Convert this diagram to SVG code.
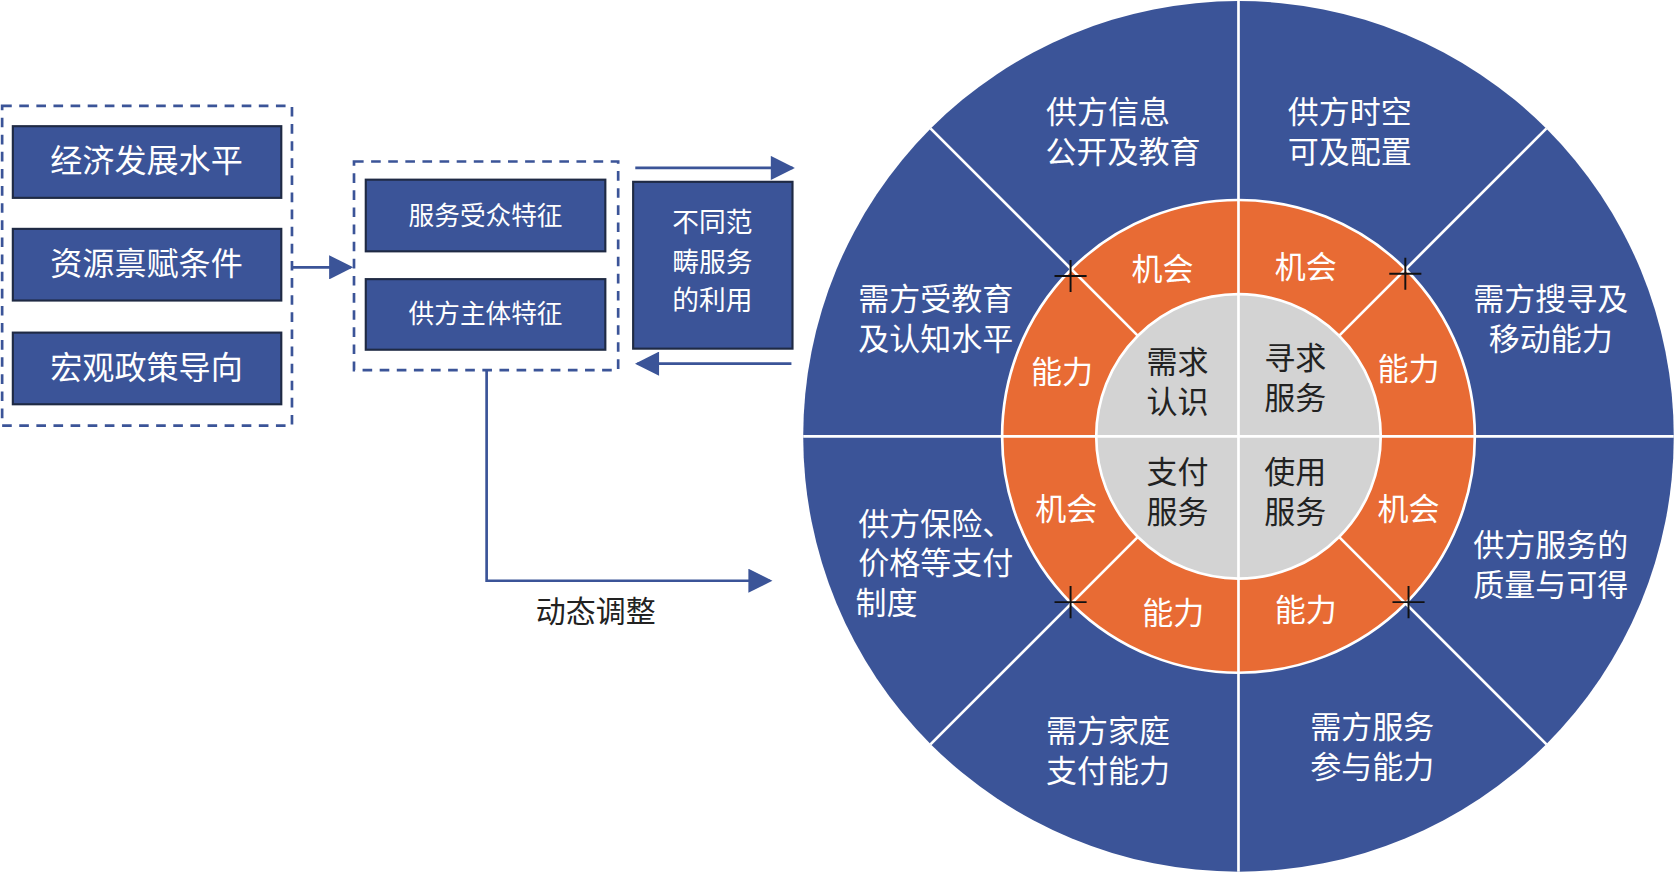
<svg xmlns="http://www.w3.org/2000/svg" width="1677" height="873" viewBox="0 0 1677 873">
<style>
.bx{fill:#3b5498;stroke:#1f2a44;stroke-width:2}
.dash{fill:none;stroke:#3b5498;stroke-width:2.5;stroke-dasharray:9 7}
.t{font-family:"Noto Sans CJK SC","Noto Sans",sans-serif;fill:#fff;text-anchor:middle}
.k{font-family:"Noto Sans CJK SC","Noto Sans",sans-serif;fill:#222;text-anchor:middle}
.ar{stroke:#3b5498;stroke-width:2.5;fill:none}
.wl{stroke:#fff;stroke-width:2.5}
.cr{stroke:#111;stroke-width:1.8}
</style>
<defs><marker id="a" viewBox="0 0 10 10" refX="9" refY="5" markerWidth="8" markerHeight="8" orient="auto" markerUnits="userSpaceOnUse"><path d="M0,0L10,5L0,10z" fill="#3b5498"/></marker>
<marker id="b" viewBox="0 0 10 10" refX="9" refY="5" markerWidth="10" markerHeight="9" orient="auto"><path d="M0,0L10,5L0,10z" fill="#3b5498"/></marker></defs>
<rect width="1677" height="873" fill="#fff"/>
<g transform="scale(1.0695)">
<rect class="dash" x="2" y="99" width="271" height="299"/>
<rect class="dash" x="331" y="151" width="247" height="195"/>
<g id="n1"><rect class="bx" x="12" y="118" width="251" height="67"/><text class="t" x="137" y="161" font-size="30">经济发展水平</text></g>
<g id="n2"><rect class="bx" x="12" y="214" width="251" height="67"/><text class="t" x="137" y="257" font-size="30">资源禀赋条件</text></g>
<g id="n3"><rect class="bx" x="12" y="311" width="251" height="67"/><text class="t" x="137" y="354" font-size="30">宏观政策导向</text></g>
<g id="n4"><rect class="bx" x="342" y="168" width="224" height="67"/><text class="t" x="454" y="210" font-size="24">服务受众特征</text></g>
<g id="n5"><rect class="bx" x="342" y="261" width="224" height="66"/><text class="t" x="454" y="302" font-size="24">供方主体特征</text></g>
<g id="n6"><rect class="bx" x="592" y="170" width="149" height="156"/><text class="t" x="666" y="217" font-size="25">不同范</text><text class="t" x="666" y="254" font-size="25">畴服务</text><text class="t" x="666" y="290" font-size="25">的利用</text></g>
<g id="connectors">
<path class="ar" d="M273,250H328" marker-end="url(#b)"/>
<path class="ar" d="M594,157H741" marker-end="url(#b)"/>
<path class="ar" d="M740,340H596" marker-end="url(#b)"/>
<path class="ar" d="M455,346V543H720" marker-end="url(#b)"/>
</g>
<text class="k" x="557" y="582" font-size="28">动态调整</text>
<g id="wheel">
<circle cx="1158" cy="408" r="407" fill="#3b5498"/>
<circle cx="1158" cy="408" r="221" fill="#e86b34" stroke="#fff" stroke-width="2.5"/>
<circle cx="1158" cy="408" r="133" fill="#d3d3d3" stroke="#fff" stroke-width="2.5"/>
<line class="wl" x1="1158" y1="1" x2="1158" y2="815"/>
<line class="wl" x1="751" y1="408" x2="1565" y2="408"/>
<line class="wl" x1="1064" y1="314" x2="870" y2="120"/>
<line class="wl" x1="1252" y1="314" x2="1446" y2="120"/>
<line class="wl" x1="1064" y1="502" x2="870" y2="696"/>
<line class="wl" x1="1252" y1="502" x2="1446" y2="696"/>
<g class="cr"><path d="M1001,243V273M986,258H1016M1314,241V271M1299,256H1329M1001,548V578M986,563H1016M1317,548V578M1302,563H1332"/></g>
<g font-size="29">
<text class="t" x="1036" y="115">供方信息</text><text class="t" x="1050" y="152">公开及教育</text>
<text class="t" x="1262" y="115">供方时空</text><text class="t" x="1262" y="152">可及配置</text>
<text class="t" x="875" y="290">需方受教育</text><text class="t" x="875" y="327">及认知水平</text>
<text class="t" x="1450" y="290">需方搜寻及</text><text class="t" x="1450" y="327">移动能力</text>
<text class="t" x="875" y="500">供方保险、</text><text class="t" x="875" y="537">价格等支付</text><text class="t" x="829" y="574" >制度</text>
<text class="t" x="1450" y="520">供方服务的</text><text class="t" x="1450" y="557">质量与可得</text>
<text class="t" x="1036" y="694">需方家庭</text><text class="t" x="1036" y="731">支付能力</text>
<text class="t" x="1283" y="690">需方服务</text><text class="t" x="1283" y="727">参与能力</text>
<text class="t" x="1087" y="262">机会</text><text class="t" x="1221" y="260">机会</text>
<text class="t" x="993" y="358">能力</text><text class="t" x="1317" y="355">能力</text>
<text class="t" x="997" y="486">机会</text><text class="t" x="1317" y="486">机会</text>
<text class="t" x="1097" y="583">能力</text><text class="t" x="1221" y="581">能力</text>
<text class="k" x="1101" y="349">需求</text><text class="k" x="1101" y="386">认识</text>
<text class="k" x="1211" y="345">寻求</text><text class="k" x="1211" y="382">服务</text>
<text class="k" x="1101" y="452">支付</text><text class="k" x="1101" y="489">服务</text>
<text class="k" x="1211" y="452">使用</text><text class="k" x="1211" y="489">服务</text>
</g>
</g>
</g>
</svg>
